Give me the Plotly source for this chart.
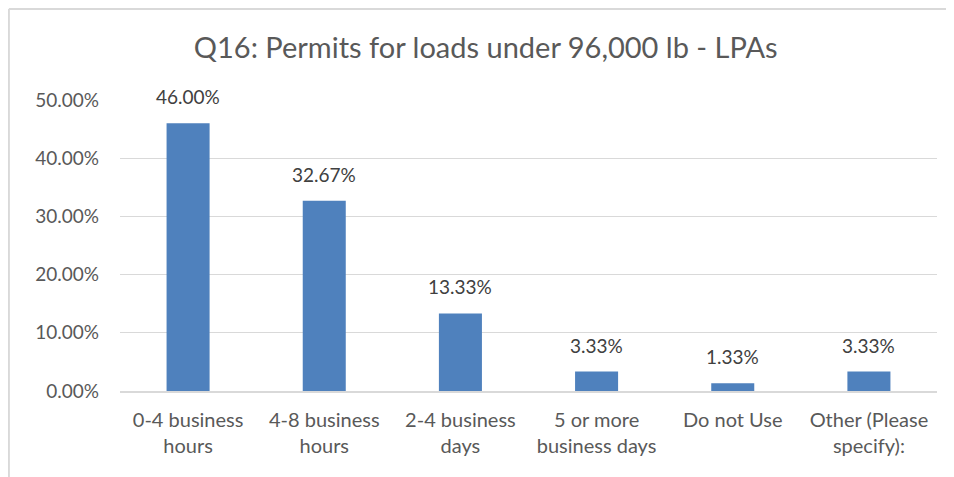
import plotly.graph_objects as go

categories = ["0-4 business<br>hours", "4-8 business<br>hours", "2-4 business<br>days",
              "5 or more<br>business days", "Do not Use", "Other (Please<br>specify):"]
values = [0.46, 0.3267, 0.1333, 0.0333, 0.0133, 0.0333]
tick_vals = [0, 0.1, 0.2, 0.3, 0.4, 0.5]

FONT = "Lato, 'Open Sans', sans-serif"
GRAY = "#595959"

fig = go.Figure(go.Bar(
    x=categories, y=values,
    marker=dict(color="#4F81BD", line=dict(width=0)),
    width=0.316,
    cliponaxis=False,
))

for c, v in zip(categories, values):
    fig.add_annotation(x=c, y=v, text=f"{v*100:.2f}%", showarrow=False,
                       yanchor="bottom", yshift=13,
                       font=dict(family=FONT, size=19, color="#404040"))

fig.update_layout(
    width=946, height=469,
    margin=dict(l=112, r=17, t=92, b=86),
    paper_bgcolor="white", plot_bgcolor="white",
    title=dict(text="Q16: Permits for loads under 96,000 lb - LPAs",
               x=0.505, xanchor="center", y=0.915, yanchor="middle",
               font=dict(family=FONT, size=29, color=GRAY)),
    showlegend=False,
    font=dict(family=FONT, color=GRAY),
)
fig.update_yaxes(range=[0, 0.5], tickvals=tick_vals, tickformat=".2%",
                 showgrid=True, gridcolor="#D9D9D9", gridwidth=1,
                 zeroline=False, showline=False, ticks="", automargin=False,
                 tickfont=dict(family=FONT, size=19, color=GRAY), ticklabelstandoff=20)
fig.update_xaxes(showgrid=False, showline=True, linecolor="#D9D9D9", linewidth=1.5,
                 ticks="", automargin=False, ticklabelstandoff=10,
                 tickfont=dict(family=FONT, size=20, color=GRAY))

# chart frame (left and top edges only are visible in the reference)
fig.add_shape(type="line", xref="paper", yref="paper",
              x0=-0.136, x1=-0.136, y0=-0.4, y1=1.313,
              line=dict(color="#D9D9D9", width=2), layer="below")
fig.add_shape(type="line", xref="paper", yref="paper",
              x0=-0.136, x1=1.05, y0=1.313, y1=1.313,
              line=dict(color="#D9D9D9", width=2), layer="below")

fig.write_html("out.html")
